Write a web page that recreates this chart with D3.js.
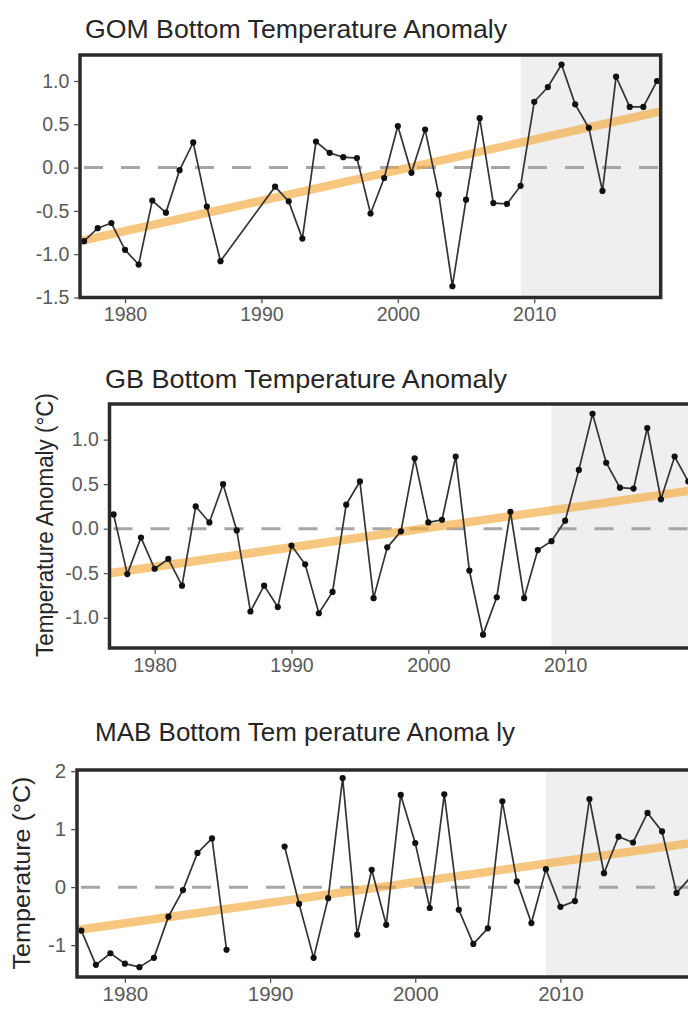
<!doctype html>
<meta charset="utf-8">
<style>
body { margin: 0; background: #fff; }
svg text { font-family: "Liberation Sans", Arial, sans-serif; }
</style>
<script src="https://d3js.org/d3.v7.min.js"></script>
<body>
<svg id="chart"></svg>
<script>
// years 1977-2019, null = no survey value
var years = [1977,1978,1979,1980,1981,1982,1983,1984,1985,1986,1987,1988,1989,1990,
  1991,1992,1993,1994,1995,1996,1997,1998,1999,2000,2001,2002,2003,2004,2005,2006,
  2007,2008,2009,2010,2011,2012,2013,2014,2015,2016,2017,2018,2019];

var gomValues = [-0.85,-0.70,-0.64,-0.95,-1.12,-0.38,-0.52,-0.03,0.29,-0.45,-1.08,null,null,null,
  -0.22,-0.39,-0.82,0.30,0.17,0.12,0.11,-0.53,-0.12,0.48,-0.06,0.44,-0.31,-1.37,-0.37,0.57,
  -0.41,-0.42,-0.21,0.76,0.93,1.19,0.73,0.46,-0.27,1.05,0.70,0.70,1.00];
var gbValues = [0.16,-0.51,-0.10,-0.45,-0.34,-0.64,0.25,0.07,0.50,-0.02,-0.93,-0.64,-0.88,-0.19,
  -0.40,-0.95,-0.71,0.27,0.53,-0.78,-0.21,-0.03,0.79,0.07,0.10,0.81,-0.47,-1.19,-0.77,0.19,
  -0.78,-0.24,-0.14,0.09,0.66,1.29,0.74,0.46,0.45,1.13,0.33,0.81,0.53];
var mabValues = [-0.75,-1.34,-1.14,-1.32,-1.38,-1.22,-0.51,-0.05,0.59,0.84,-1.08,null,null,null,
  0.70,-0.29,-1.22,-0.19,1.88,-0.82,0.30,-0.65,1.59,0.76,-0.36,1.60,-0.39,-0.98,-0.71,1.48,
  0.10,-0.62,0.31,-0.34,-0.24,1.52,0.24,0.87,0.77,1.28,0.96,-0.10,0.18];

// long-term trend, value at the left and right edge of the year axis
var gomTrend = [-0.85, 0.65];
var gbTrend = [-0.50, 0.43];
var mabTrend = [-0.74, 0.77];

var yearDomain = [1976.7, 2019.27];
var recentStart = 2009;
var xTicks = [1980, 1990, 2000, 2010];
var gomTicks = [-1.5, -1.0, -0.5, 0.0, 0.5, 1.0];
var gbTicks = [-1.0, -0.5, 0.0, 0.5, 1.0];
var mabTicks = [-1, 0, 1, 2];

var width = 688, height = 1009;
var svg = d3.select("#chart").attr("width", width).attr("height", height);
svg.append("rect").attr("width", width).attr("height", height).attr("fill", "#fff");

var panels = [
  { title: "GOM Bottom Temperature Anomaly", values: gomValues, trend: gomTrend, ticks: gomTicks,
    fmt: function(d){ return d.toFixed(1); }, connect: true,
    left: 80, right: 660.7, top: 55, bottom: 297.5, yDomain: [-1.5, 1.3],
    titleX: 85, titleY: 38, titleLen: 422, font: 19.5 },
  { title: "GB Bottom Temperature Anomaly", values: gbValues, trend: gbTrend, ticks: gbTicks,
    fmt: function(d){ return d.toFixed(1); }, connect: true,
    left: 109.5, right: 692, top: 404, bottom: 648, yDomain: [-1.34, 1.40],
    titleX: 105, titleY: 388, titleLen: 402, font: 19.5,
    ylab: "Temperature Anomaly (\u00B0C)", ylabX: 53, ylabY: 525, ylabLen: 264 },
  { title: "MAB Bottom Tem perature Anoma ly", values: mabValues, trend: mabTrend, ticks: mabTicks,
    fmt: function(d){ return String(d); }, connect: false,
    left: 77, right: 695, top: 770, bottom: 977, yDomain: [-1.55, 2.02],
    titleX: 95, titleY: 741, titleLen: 420, font: 20.5,
    ylab: "Temperature (\u00B0C)", ylabX: 30, ylabY: 873, ylabLen: 193 }
];

panels.forEach(function(p) {
  var x = d3.scaleLinear().domain(yearDomain).range([p.left, p.right]);
  var y = d3.scaleLinear().domain(p.yDomain).range([p.bottom, p.top]);
  var g = svg.append("g");

  var pts = years.map(function(yr, i){ return { year: yr, value: p.values[i] }; });
  var valid = pts.filter(function(d){ return d.value !== null; });

  // recent period shading
  g.append("rect")
    .attr("x", x(recentStart)).attr("y", p.top)
    .attr("width", p.right - x(recentStart)).attr("height", p.bottom - p.top)
    .attr("fill", "#efefef");

  // zero line
  g.append("line")
    .attr("x1", p.left).attr("x2", p.right)
    .attr("y1", y(0)).attr("y2", y(0))
    .attr("stroke", "#a6a6a6").attr("stroke-width", 3)
    .attr("stroke-dasharray", "19 18").attr("stroke-dashoffset", -4);

  // trend
  g.append("line")
    .attr("x1", x(yearDomain[0])).attr("x2", x(yearDomain[1]))
    .attr("y1", y(p.trend[0])).attr("y2", y(p.trend[1]))
    .attr("stroke", "#f2a93b").attr("stroke-opacity", 0.65).attr("stroke-width", 8.5);

  var line = d3.line()
    .defined(function(d){ return d.value !== null; })
    .x(function(d){ return x(d.year); })
    .y(function(d){ return y(d.value); });

  g.append("path")
    .datum(p.connect ? valid : pts)
    .attr("d", line)
    .attr("fill", "none").attr("stroke", "#333").attr("stroke-width", 1.7);

  g.selectAll("circle").data(valid).enter().append("circle")
    .attr("cx", function(d){ return x(d.year); })
    .attr("cy", function(d){ return y(d.value); })
    .attr("r", 3.1).attr("fill", "#111");

  // panel border
  g.append("rect")
    .attr("x", p.left).attr("y", p.top)
    .attr("width", p.right - p.left).attr("height", p.bottom - p.top)
    .attr("fill", "none").attr("stroke", "#2b2b2b").attr("stroke-width", 3.5);

  var yAxis = g.append("g")
    .attr("transform", "translate(" + (p.left - 1.75) + ",0)")
    .call(d3.axisLeft(y).tickValues(p.ticks).tickFormat(p.fmt).tickSize(4).tickPadding(5));
  var xAxis = g.append("g")
    .attr("transform", "translate(0," + (p.bottom + 1.75) + ")")
    .call(d3.axisBottom(x).tickValues(xTicks).tickFormat(d3.format("d")).tickSize(4).tickPadding(4));
  [yAxis, xAxis].forEach(function(a) {
    a.select(".domain").remove();
    a.selectAll(".tick line").attr("stroke", "#444").attr("stroke-width", 1.2);
    a.selectAll(".tick text").attr("fill", "#5a5a5a").style("font-size", p.font + "px");
  });

  g.append("text")
    .attr("x", p.titleX).attr("y", p.titleY)
    .attr("textLength", p.titleLen).attr("lengthAdjust", "spacingAndGlyphs")
    .attr("fill", "#262626").style("font-size", "25px")
    .text(p.title);

  if (p.ylab) {
    g.append("text")
      .attr("transform", "translate(" + p.ylabX + "," + p.ylabY + ") rotate(-90)")
      .attr("text-anchor", "middle")
      .attr("textLength", p.ylabLen).attr("lengthAdjust", "spacingAndGlyphs")
      .attr("fill", "#262626").style("font-size", "23px")
      .text(p.ylab);
  }
});
</script>
</body>
